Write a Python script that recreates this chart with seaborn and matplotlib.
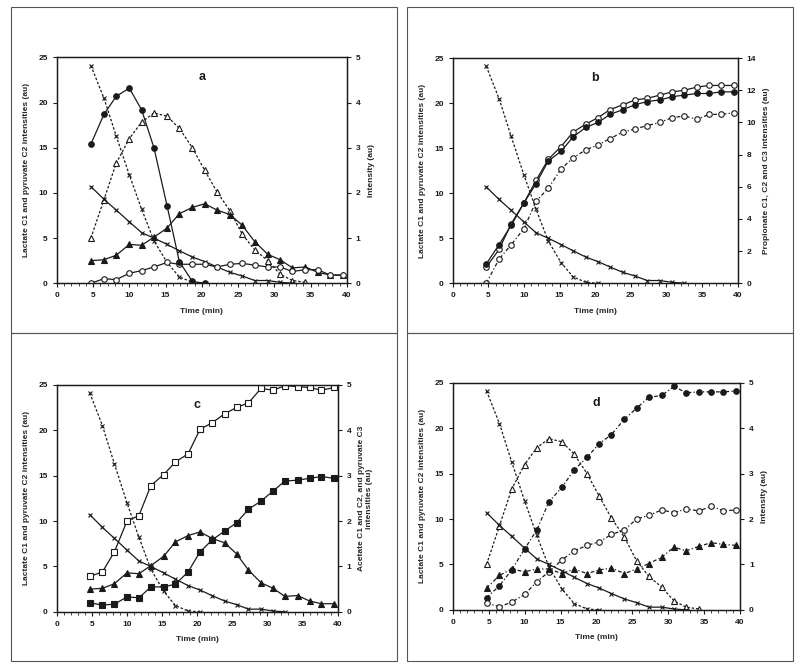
import numpy as np
import matplotlib
matplotlib.use("Agg")
import matplotlib.pyplot as plt
import seaborn as sns
from matplotlib.patches import Rectangle
from matplotlib.ticker import MultipleLocator

# sampling times (min), shared by all panels
TIME = [4.7, 6.5, 8.2, 10.0, 11.7, 13.4, 15.2, 16.9, 18.7, 20.4, 22.1,
        23.9, 25.6, 27.3, 29.1, 30.8, 32.5, 34.3, 36.0, 37.7, 39.5]

# series common to several panels (left axis)
lac_dotted = [24.1, 20.5, 16.3, 12.0, 8.2, 4.7, 2.3, 0.7, 0.1, 0.0]
lac_solid = [10.7, 9.3, 8.1, 6.8, 5.6, 5.0, 4.3, 3.6, 2.9, 2.4, 1.8, 1.2,
             0.8, 0.3, 0.3, 0.1, 0.0]
pyr_c2 = [2.5, 2.6, 3.1, 4.3, 4.2, 5.1, 6.1, 7.7, 8.4, 8.8, 8.1, 7.6, 6.4,
          4.6, 3.2, 2.6, 1.7, 1.8, 1.2, 0.9, 0.9]
# open triangles, right axis (a, d)
open_tri = [1.0, 1.85, 2.66, 3.2, 3.57, 3.77, 3.7, 3.43, 3.0, 2.5, 2.02,
            1.6, 1.08, 0.74, 0.5, 0.2, 0.06, 0.02]

# panel a (left axis)
a_filled_circ = [15.4, 18.7, 20.7, 21.6, 19.2, 15.0, 8.6, 2.4, 0.2, 0.0]
a_open_circ = [0.0, 0.5, 0.4, 1.1, 1.4, 1.8, 2.3, 2.1, 2.1, 2.1, 1.8, 2.1,
               2.2, 2.0, 1.8, 1.8, 1.3, 1.5, 1.5, 0.9, 0.9]

# panel b (right axis, 0-14)
b_prop_open = [1.0, 2.1, 3.7, 5.0, 6.4, 7.7, 8.5, 9.4, 9.9, 10.3, 10.8,
               11.1, 11.4, 11.5, 11.7, 11.9, 12.0, 12.2, 12.3, 12.3, 12.3]
b_prop_filled = [1.2, 2.4, 3.6, 5.0, 6.2, 7.6, 8.2, 9.1, 9.7, 10.0, 10.5,
                 10.8, 11.1, 11.3, 11.4, 11.6, 11.7, 11.8, 11.8, 11.9, 11.9]
b_prop_dash = [0.0, 1.5, 2.4, 3.4, 5.1, 5.9, 7.1, 7.8, 8.3, 8.6, 9.0, 9.4,
               9.6, 9.8, 10.0, 10.3, 10.4, 10.2, 10.5, 10.5, 10.6]

# panel c (right axis, 0-5)
c_open_sq = [0.78, 0.88, 1.32, 2.0, 2.12, 2.78, 3.02, 3.3, 3.48, 4.02, 4.16,
             4.36, 4.5, 4.6, 4.92, 4.88, 4.98, 4.96, 4.94, 4.88, 4.94]
c_filled_sq = [0.2, 0.15, 0.17, 0.33, 0.31, 0.55, 0.55, 0.61, 0.88, 1.32,
               1.58, 1.78, 1.96, 2.26, 2.44, 2.66, 2.88, 2.9, 2.94, 2.98, 2.94]

# panel d (right axis, 0-5)
d_filled_circ = [0.27, 0.53, 0.88, 1.34, 1.76, 2.38, 2.7, 3.08, 3.36, 3.66,
                 3.86, 4.2, 4.44, 4.68, 4.72, 4.92, 4.78, 4.8, 4.8, 4.8, 4.82]
d_open_circ = [0.15, 0.07, 0.17, 0.34, 0.62, 0.84, 1.1, 1.3, 1.42, 1.5, 1.66,
               1.76, 2.0, 2.08, 2.2, 2.14, 2.22, 2.18, 2.28, 2.18, 2.2]
d_filled_tri = [0.48, 0.76, 0.9, 0.84, 0.9, 0.9, 0.8, 0.9, 0.8, 0.88, 0.92,
                0.8, 0.9, 1.02, 1.16, 1.38, 1.3, 1.4, 1.48, 1.44, 1.42]

INK = "#1a1a1a"
SOLID = "-"
DOT = (0, (2, 1.5))
DASHDOT = (0, (3, 1.8, 1, 1.8))

sns.set_style("ticks")
plt.rcParams["font.family"] = ["Liberation Sans", "DejaVu Sans"]
plt.rcParams["font.weight"] = "bold"
plt.rcParams["axes.labelweight"] = "bold"


def draw(ax, y, marker, filled, ls, ms=4):
    sns.lineplot(x=TIME[:len(y)], y=y, ax=ax, color=INK, linestyle=ls,
                 linewidth=0.9, marker=marker, markersize=ms,
                 markerfacecolor=INK if filled else "white",
                 markeredgecolor=INK, markeredgewidth=0.8)


def setup(rect, letter, right_label, right_max, right_step):
    ax = fig.add_axes(rect)
    ax2 = ax.twinx()
    ax.set_zorder(ax2.get_zorder() + 1)
    ax.patch.set_visible(False)
    ax.set_xlim(0, 40)
    ax.set_ylim(0, 25)
    ax2.set_ylim(0, right_max)
    ax.xaxis.set_major_locator(MultipleLocator(5))
    ax.xaxis.set_minor_locator(MultipleLocator(1))
    ax.yaxis.set_major_locator(MultipleLocator(5))
    ax2.yaxis.set_major_locator(MultipleLocator(right_step))
    for a in (ax, ax2):
        a.tick_params(which="major", direction="out", length=3, width=0.8,
                      labelsize=6, colors=INK)
        a.tick_params(which="minor", direction="out", length=2, width=0.6)
        for s in a.spines.values():
            s.set_visible(True)
            s.set_linewidth(0.9)
            s.set_color(INK)
    ax.set_xlabel("Time (min)", fontsize=6, labelpad=6)
    ax.set_ylabel("Lactate C1 and pyruvate C2 intensities (au)", fontsize=6,
                  labelpad=6)
    ax2.set_ylabel(right_label, fontsize=6, labelpad=5)
    ax.text(20, 22.8, letter, ha="center", va="center", fontsize=9,
            fontweight="bold", color=INK)
    return ax, ax2


fig = plt.figure(figsize=(8, 6.68), dpi=100)

# panel frames
for x0, y0, w, h in [(11, 7, 386, 326), (407, 7, 386, 326),
                     (11, 333, 386, 328), (407, 333, 386, 328)]:
    fig.add_artist(Rectangle((x0 / 800, 1 - (y0 + h) / 668), w / 800, h / 668,
                             transform=fig.transFigure, fill=False,
                             edgecolor="#555555", linewidth=0.8))

# a
ax, ax2 = setup([0.071, 0.576, 0.3625, 0.338], "a", "Intensity (au)", 5, 1)
draw(ax2, open_tri, "^", False, DOT)
draw(ax, lac_dotted, "x", False, DOT, 3.5)
draw(ax, lac_solid, "x", False, SOLID, 3.5)
draw(ax, pyr_c2, "^", True, SOLID)
draw(ax, a_open_circ, "o", False, SOLID)
draw(ax, a_filled_circ, "o", True, SOLID)

# b
ax, ax2 = setup([0.566, 0.576, 0.356, 0.337], "b",
                "Propionate C1, C2 and C3 intensities (au)", 14, 2)
draw(ax2, b_prop_dash, "o", False, DASHDOT)
draw(ax2, b_prop_open, "o", False, SOLID)
draw(ax2, b_prop_filled, "o", True, SOLID)
draw(ax, lac_dotted, "x", False, DOT, 3.5)
draw(ax, lac_solid, "x", False, SOLID, 3.5)

# c
ax, ax2 = setup([0.071, 0.084, 0.351, 0.340], "c",
                "Acetate C1 and C2, and pyruvate C3\nintensities (au)", 5, 1)
draw(ax2, c_open_sq, "s", False, SOLID)
draw(ax2, c_filled_sq, "s", True, SOLID)
draw(ax, lac_dotted, "x", False, DOT, 3.5)
draw(ax, lac_solid, "x", False, SOLID, 3.5)
draw(ax, pyr_c2, "^", True, SOLID)

# d
ax, ax2 = setup([0.566, 0.087, 0.359, 0.340], "d", "Intensity (au)", 5, 1)
draw(ax2, open_tri, "^", False, DOT)
draw(ax2, d_filled_circ, "o", True, DASHDOT)
draw(ax2, d_open_circ, "o", False, DASHDOT)
draw(ax2, d_filled_tri, "^", True, DASHDOT)
draw(ax, lac_dotted, "x", False, DOT, 3.5)
draw(ax, lac_solid, "x", False, SOLID, 3.5)

fig.savefig("out.png", dpi=100)
